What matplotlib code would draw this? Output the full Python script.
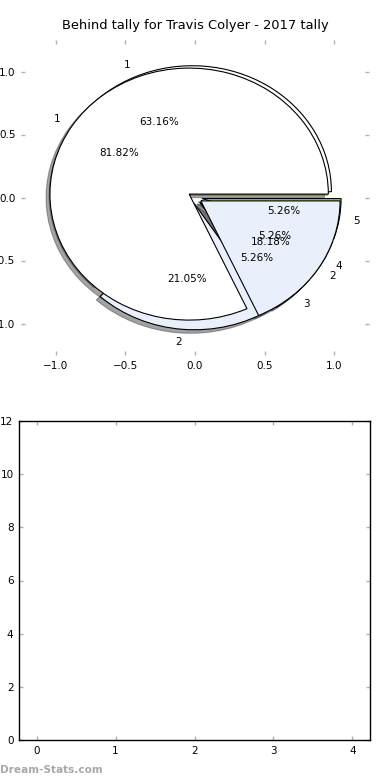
import matplotlib
matplotlib.use("Agg")
import matplotlib.pyplot as plt

# Data
title = "Behind tally for Travis Colyer - 2017 tally"
outer_labels = ["1", "2", "3", "4", "5"]
outer_values = [12, 4, 1, 1, 1]
inner_labels = ["1", "2"]
inner_values = [9, 2]
pie_ticks = [-1.0, -0.5, 0.0, 0.5, 1.0]
bar_xticks = [0, 1, 2, 3, 4]
bar_yticks = [0, 2, 4, 6, 8, 10, 12]

W, H = 390, 780
fig = plt.figure(figsize=(W / 100, H / 100), dpi=100)
fig.patch.set_facecolor("white")

def px_axes(x0, y0, x1, y1):
    return fig.add_axes([x0 / W, 1 - y1 / H, (x1 - x0) / W, (y1 - y0) / H])

light = "#e9effb"
fs = 7.5
tick_gray = "#b0b0b0"

ax = px_axes(21, 40, 369, 355)
edge = dict(edgecolor="black", linewidth=0.8)
ax.pie(outer_values, labels=outer_labels, explode=[0.05] * 5,
       colors=["white", light, "#f4d6b0", "#d0d0d0", "yellowgreen"],
       autopct="%1.2f%%", shadow=True,
       wedgeprops=dict(zorder=1, **edge),
       textprops=dict(fontsize=fs))
ax.pie(inner_values, labels=inner_labels, explode=[0.05] * 2,
       colors=["white", light],
       autopct="%1.2f%%", shadow=True,
       wedgeprops=dict(zorder=1, **edge),
       textprops=dict(fontsize=fs))
ax.set_aspect("auto")
ax.set_frame_on(False)
ax.set_xlim(-1.25, 1.25)
ax.set_ylim(-1.25, 1.25)
ax.set_xticks(pie_ticks)
ax.set_yticks(pie_ticks)
ax.set_xticklabels([f"{t:.1f}".replace("-", "\u2212") for t in pie_ticks])
ax.set_yticklabels([f"{t:.1f}".replace("-", "\u2212") for t in pie_ticks])
ax.tick_params(direction="in", length=3, width=1, color=tick_gray,
               labelsize=fs, top=True, right=True, pad=4)
ax.set_title(title, fontsize=9.4, pad=8)

ax2 = px_axes(19, 421, 370, 740)
ax2.set_xlim(-0.225, 4.225)
ax2.set_ylim(0, 12)
ax2.set_xticks(bar_xticks)
ax2.set_yticks(bar_yticks)
ax2.tick_params(direction="in", length=3, width=1, color=tick_gray,
                labelsize=fs, top=True, right=True, pad=4)
for s in ax2.spines.values():
    s.set_linewidth(1)

fig.text(0.0, 1 - 770 / H, "Dream-Stats.com", fontsize=7.6, fontweight="bold",
         color="#a8a8a8", va="center", ha="left")

fig.savefig("out.png", dpi=100)
